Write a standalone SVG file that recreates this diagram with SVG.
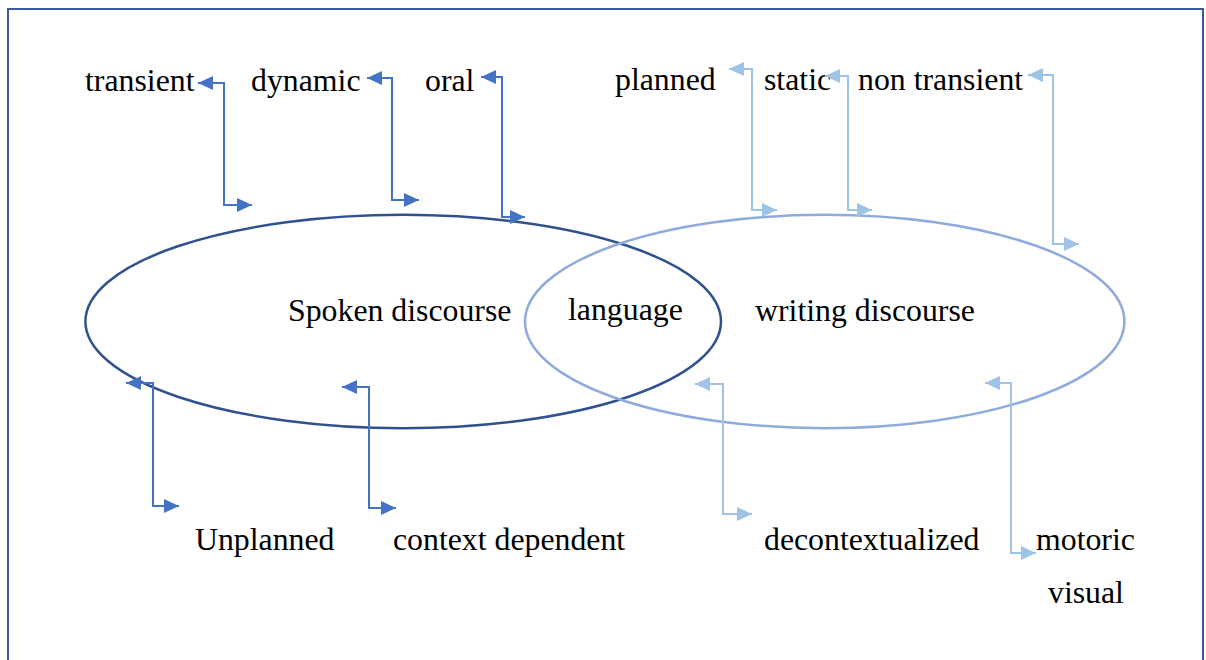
<svg xmlns="http://www.w3.org/2000/svg" width="1206" height="660" viewBox="0 0 1206 660">
<defs>
<style>
.t{font-family:"Liberation Serif","Times New Roman",serif;font-size:31.8px;fill:#000}
.cd{fill:none;stroke:#4472c4;stroke-width:2;marker-start:url(#ad);marker-end:url(#ad)}
.cl{fill:none;stroke:#9dc3e6;stroke-width:2;marker-start:url(#al);marker-end:url(#al)}
</style>
<marker id="ad" markerUnits="userSpaceOnUse" markerWidth="16" markerHeight="15" refX="15" refY="7" orient="auto-start-reverse"><path d="M0,0 L15,7 L0,14 z" fill="#4472c4"/></marker>
<marker id="al" markerUnits="userSpaceOnUse" markerWidth="16" markerHeight="15" refX="15" refY="7" orient="auto-start-reverse"><path d="M0,0 L15,7 L0,14 z" fill="#9dc3e6"/></marker>
</defs>
<rect x="0" y="0" width="1206" height="660" fill="#fff"/>
<rect x="8" y="9" width="1195" height="700" fill="none" stroke="#3a5a9e" stroke-width="2"/>
<g id="spoken">
<ellipse cx="403.2" cy="321.5" rx="317.8" ry="106.7" fill="none" stroke="#2f528f" stroke-width="2.5"/>
<text class="t" x="288" y="321">Spoken discourse</text>
</g>
<g id="writing">
<ellipse cx="824.7" cy="321.5" rx="299.7" ry="106.7" fill="none" stroke="#8faadc" stroke-width="2.5"/>
<text class="t" x="755" y="321">writing discourse</text>
</g>
<g id="language"><text class="t" x="568" y="320">language</text></g>
<g id="transient"><text class="t" x="85" y="91">transient</text></g>
<g id="dynamic"><text class="t" x="251" y="91">dynamic</text></g>
<g id="oral"><text class="t" x="425" y="91">oral</text></g>
<g id="planned"><text class="t" x="615" y="90">planned</text></g>
<g id="static"><text class="t" x="764" y="90">static</text></g>
<g id="nontransient"><text class="t" x="858" y="90">non transient</text></g>
<g id="unplanned"><text class="t" x="195" y="550">Unplanned</text></g>
<g id="context"><text class="t" x="393" y="550">context dependent</text></g>
<g id="decontext"><text class="t" x="764" y="550">decontextualized</text></g>
<g id="motoric"><text class="t" x="1036" y="550">motoric</text><text class="t" x="1048" y="603">visual</text></g>
<g id="connectors">
<path class="cd" d="M198,83 H224 V205 H252"/>
<path class="cd" d="M367,78 H392 V200 H419"/>
<path class="cd" d="M481,77 H502 V217 H525"/>
<path class="cd" d="M126,383 H153 V506 H179"/>
<path class="cd" d="M342,387 H369 V508 H396"/>
<path class="cl" d="M729,69 H752 V210 H777"/>
<path class="cl" d="M825,76 H848 V210 H872"/>
<path class="cl" d="M1028,75 H1053 V244 H1079"/>
<path class="cl" d="M695,384 H723 V514 H752"/>
<path class="cl" d="M985,383 H1011 V553 H1036"/>
</g>
</svg>
